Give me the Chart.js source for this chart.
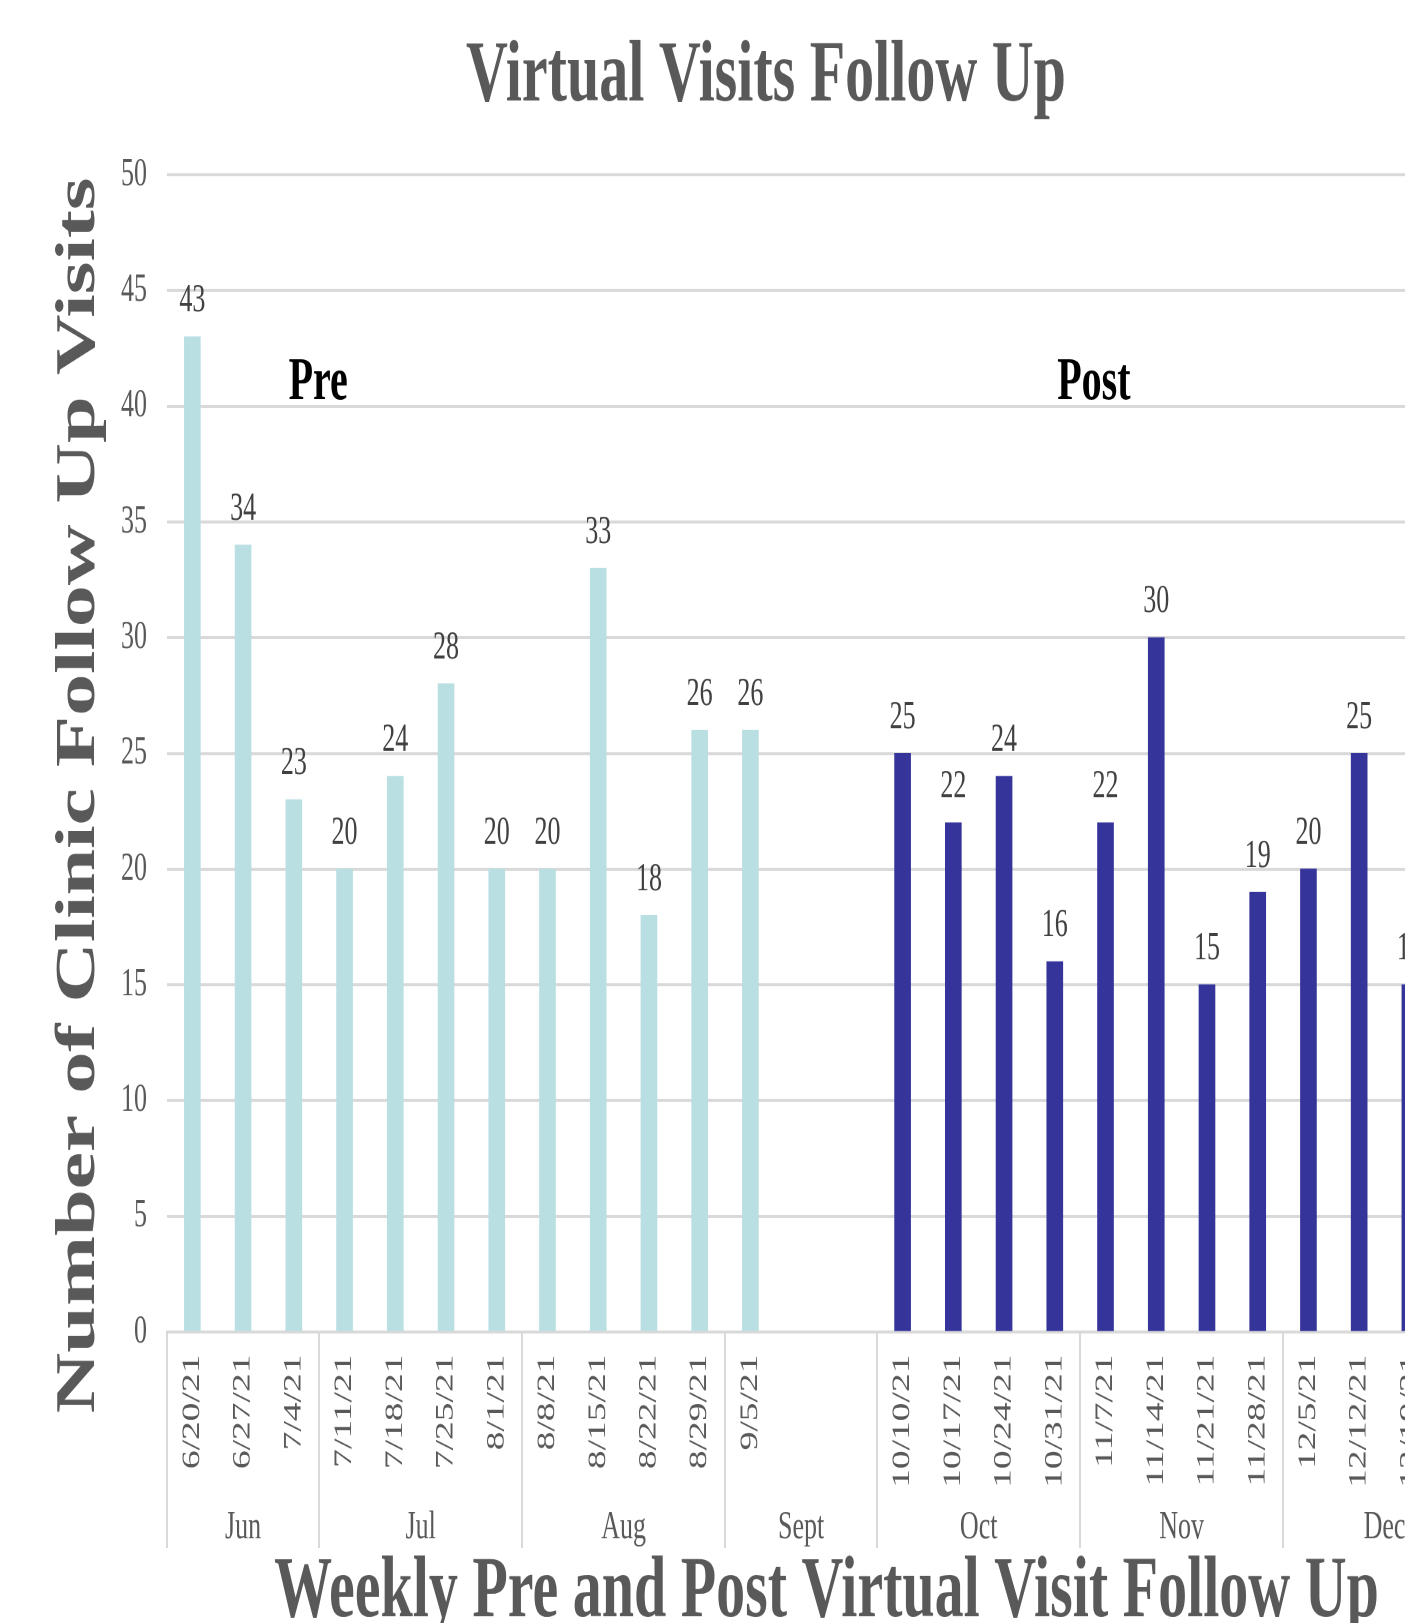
<!DOCTYPE html>
<html>
<head>
<meta charset="utf-8">
<title>Virtual Visits Follow Up</title>
<script src="https://cdn.jsdelivr.net/npm/chart.js@4.4.1/dist/chart.umd.min.js"></script>
<style>
  html { margin: 0; padding: 0; overflow: hidden; background: #fff; }
  body { margin: 0; padding: 0; width: 1405px; height: 1623px; background: #fff; }
  /* the source picture is stretched vertically, so the chart is drawn flat and scaled up */
  #wrap { width: 1486px; height: 1082px; transform: scaleY(1.5); transform-origin: 0 0; }
</style>
</head>
<body>
<div id="wrap"><canvas id="chart" width="1486" height="1082"></canvas></div>
<script>
const weeks = [
    '6/20/21', '6/27/21', '7/4/21', '7/11/21', '7/18/21', '7/25/21', '8/1/21',
    '8/8/21', '8/15/21', '8/22/21', '8/29/21', '9/5/21', '', '',
    '10/10/21', '10/17/21', '10/24/21', '10/31/21', '11/7/21', '11/14/21',
    '11/21/21', '11/28/21', '12/5/21', '12/12/21', '12/19/21', '12/26/21'
];
const preVisits = [43, 34, 23, 20, 24, 28, 20, 20, 33, 18, 26, 26,
    null, null, null, null, null, null, null, null, null, null, null, null, null, null];
const postVisits = [null, null, null, null, null, null, null, null, null, null, null, null, null, null,
    25, 22, 24, 16, 22, 30, 15, 19, 20, 25, 15, null];
const months = ['Jun', 'Jul', 'Aug', 'Sept', 'Oct', 'Nov', 'Dec'];
const weeksPerMonth = [3, 4, 4, 3, 4, 4, 4];
const phaseNames = ['Pre', 'Post'];
const phaseAt = [2.48, 17.77];   // category position of the Pre / Post captions
const phaseHeight = 41;

const gray = '#595959';
const gridGray = '#d9d9d9';
const serif = '"Liberation Serif", "Times New Roman", serif';

Chart.defaults.font.family = serif;

// month edges (in week index) and month centres
const monthEdges = [0];
const monthMid = [];
weeksPerMonth.forEach((n, i) => {
    monthMid.push(monthEdges[i] + (n - 1) / 2);
    monthEdges.push(monthEdges[i] + n);
});

const valueLabels = {
    id: 'valueLabels',
    afterDatasetsDraw(chart) {
        const ctx = chart.ctx;
        ctx.save();
        ctx.font = '26px ' + serif;
        ctx.fillStyle = '#404040';
        ctx.textAlign = 'center';
        ctx.textBaseline = 'alphabetic';
        chart.data.datasets.forEach((ds, i) => {
            chart.getDatasetMeta(i).data.forEach((bar, j) => {
                const v = ds.data[j];
                if (v === null || v === undefined) return;
                ctx.fillText(String(v), bar.x, bar.y - 17);
            });
        });
        ctx.restore();
    }
};

const phaseLabels = {
    id: 'phaseLabels',
    afterDraw(chart) {
        const { ctx, scales } = chart;
        ctx.save();
        ctx.font = 'bold 40px ' + serif;
        ctx.fillStyle = '#000';
        ctx.textAlign = 'center';
        ctx.textBaseline = 'middle';
        phaseNames.forEach((t, i) => {
            ctx.fillText(t, scales.x.getPixelForValue(phaseAt[i]), scales.y.getPixelForValue(phaseHeight));
        });
        ctx.restore();
    }
};

new Chart(document.getElementById('chart').getContext('2d'), {
    type: 'bar',
    data: {
        labels: weeks,
        datasets: [
            { label: 'Pre', data: preVisits, backgroundColor: '#badfe3', grouped: false, barThickness: 16 },
            { label: 'Post', data: postVisits, backgroundColor: '#35349a', grouped: false, barThickness: 16 }
        ]
    },
    options: {
        responsive: false,
        animation: false,
        devicePixelRatio: 2,
        layout: { padding: { left: 46, right: 0, top: 0, bottom: 0 } },
        plugins: {
            legend: { display: false },
            tooltip: { enabled: false },
            title: {
                display: true,
                text: 'Virtual Visits Follow Up',
                color: gray,
                font: { size: 58, weight: 'bold' },
                padding: { top: 17, bottom: 30 }
            }
        },
        scales: {
            x: {
                type: 'category',
                offset: true,
                grid: {
                    offset: true,
                    drawOnChartArea: false,
                    drawTicks: true,
                    tickLength: 144,
                    tickWidth: 2,
                    tickColor: c => monthEdges.includes(c.index) ? gridGray : 'rgba(0,0,0,0)'
                },
                border: { display: true, color: gridGray, width: 2 },
                ticks: {
                    autoSkip: false,
                    maxRotation: 90,
                    minRotation: 90,
                    padding: -129,
                    color: gray,
                    font: { size: 25 }
                },
                afterFit: s => { s.height = 104; }
            },
            month: {
                type: 'linear',
                position: 'bottom',
                offset: false,
                min: -0.5,
                max: weeks.length - 0.5,
                grid: { display: false, drawTicks: false },
                border: { display: false },
                afterBuildTicks: s => { s.ticks = monthMid.map(v => ({ value: v })); },
                ticks: {
                    padding: 11,
                    color: gray,
                    font: { size: 26 },
                    callback: (v, i) => months[i]
                },
                title: {
                    display: true,
                    text: 'Weekly Pre and Post Virtual Visit Follow Up',
                    color: gray,
                    font: { size: 58, weight: 'bold', lineHeight: 0.68 },
                    padding: 0
                },
                afterFit: s => { s.height = 90; }
            },
            y: {
                min: 0,
                max: 50,
                grid: { color: gridGray, lineWidth: 2, drawTicks: false },
                border: { display: false },
                ticks: { stepSize: 5, padding: 20, color: gray, font: { size: 26 } },
                title: {
                    display: true,
                    // trailing spaces nudge the centred title down to where the original sits
                    text: 'Number of Clinic Follow Up Visits    ',
                    color: gray,
                    font: { size: 56, weight: 'bold' },
                    padding: { top: 0, bottom: 0 }
                },
                afterFit: s => { s.width = 121; }
            }
        }
    },
    plugins: [valueLabels, phaseLabels]
});
</script>
</body>
</html>
